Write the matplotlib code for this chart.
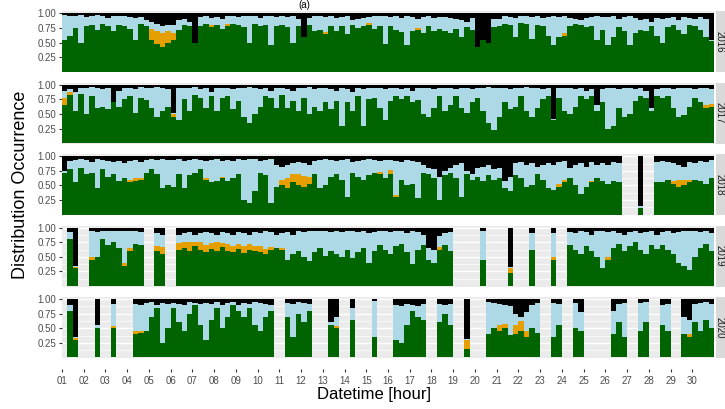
import matplotlib
matplotlib.use('Agg')
import matplotlib.pyplot as plt
import numpy as np
from matplotlib.patches import Rectangle

N = None  # no data for that 6-hour block

years = ['2016', '2017', '2018', '2019', '2020']
day_labels = ['%02d' % d for d in range(1, 31)]
hours_per_bin = 6

# values in percent, one value per 6 hours (120 per month)
green_2016 = [55, 62, 75, 50, 78, 80, 72, 82, 78, 70,
              80, 78, 74, 55, 82, 78, 55, 48, 42, 50,
              55, 72, 80, 78, 50, 78, 82, 76, 80, 74,
              78, 82, 80, 76, 50, 82, 78, 80, 45, 78,
              80, 76, 50, 78, 60, 80, 70, 72, 65, 78,
              70, 78, 65, 80, 75, 78, 80, 74, 78, 48,
              78, 72, 68, 45, 70, 72, 66, 78, 70, 74,
              70, 66, 74, 60, 76, 72, 42, 55, 50, 76,
              78, 82, 80, 60, 84, 82, 56, 80, 78, 62,
              45, 60, 62, 78, 82, 80, 76, 78, 55, 72,
              45, 60, 76, 70, 45, 66, 72, 70, 78, 62,
              50, 76, 80, 72, 64, 80, 78, 72, 60, 52]
black_2016 = [3, 4, 5, 3, 6, 4, 3, 5, 8, 4,
              4, 5, 6, 8, 6, 12, 15, 18, 22, 20,
              20, 12, 10, 15, 50, 6, 5, 8, 6, 10,
              5, 4, 6, 5, 4, 5, 8, 5, 4, 6,
              4, 6, 5, 10, 40, 8, 5, 4, 6, 5,
              8, 6, 5, 12, 10, 8, 6, 5, 4, 5,
              6, 5, 8, 5, 6, 10, 6, 5, 8, 7,
              6, 8, 10, 12, 15, 8, 58, 45, 50, 10,
              10, 5, 6, 8, 5, 4, 6, 5, 8, 6,
              4, 6, 5, 8, 10, 12, 8, 6, 5, 6,
              6, 5, 10, 6, 5, 8, 12, 10, 14, 8,
              10, 8, 6, 12, 6, 8, 10, 6, 10, 45]
orange_2016 = {16: 18, 17: 22, 18: 25, 19: 20, 20: 12, 27: 4, 30: 4,
               48: 3, 56: 4, 65: 3, 92: 5}

green_2017 = [65, 82, 55, 84, 50, 80, 60, 62, 58, 70,
              62, 76, 80, 52, 78, 74, 60, 45, 55, 62,
              45, 40, 75, 55, 82, 78, 60, 80, 55, 78,
              80, 58, 72, 45, 35, 50, 62, 80, 78, 60,
              82, 60, 72, 55, 78, 50, 62, 55, 70, 58,
              72, 30, 70, 55, 80, 30, 75, 78, 60, 40,
              72, 80, 76, 80, 70, 74, 50, 45, 60, 80,
              55, 65, 80, 60, 52, 70, 78, 55, 35, 22,
              45, 70, 58, 62, 80, 55, 45, 60, 75, 80,
              40, 78, 55, 50, 62, 80, 76, 80, 55, 70,
              25, 30, 60, 45, 50, 72, 80, 78, 55, 80,
              78, 80, 60, 45, 48, 62, 78, 70, 60, 62]
black_2017 = [10, 8, 12, 6, 5, 4, 6, 8, 6, 30,
              10, 6, 5, 8, 4, 5, 6, 4, 5, 8,
              48, 6, 5, 6, 4, 8, 5, 12, 6, 5,
              6, 8, 5, 6, 4, 5, 8, 6, 10, 5,
              6, 8, 10, 5, 6, 4, 8, 5, 6, 8,
              10, 6, 8, 12, 6, 8, 6, 5, 6, 8,
              6, 5, 8, 6, 10, 6, 5, 6, 8, 5,
              6, 5, 8, 5, 6, 8, 6, 5, 4, 5,
              5, 6, 8, 6, 5, 4, 6, 5, 8, 6,
              58, 6, 5, 6, 8, 6, 10, 8, 35, 8,
              5, 6, 8, 6, 5, 8, 6, 10, 40, 8,
              6, 5, 8, 6, 5, 6, 8, 5, 6, 8]
orange_2017 = {0: 12, 1: 5, 20: 5, 118: 6, 119: 5}

green_2018 = [72, 78, 55, 80, 70, 72, 45, 78, 65, 70,
              58, 62, 55, 58, 60, 72, 78, 70, 45, 50,
              48, 70, 45, 68, 72, 78, 60, 55, 58, 62,
              58, 62, 70, 25, 20, 40, 72, 68, 20, 48,
              50, 45, 55, 50, 48, 52, 70, 45, 50, 65,
              70, 60, 30, 72, 65, 60, 68, 72, 70, 62,
              70, 30, 60, 50, 52, 28, 72, 70, 62, 25,
              68, 72, 62, 30, 70, 60, 65, 58, 68, 60,
              62, 45, 40, 68, 62, 48, 50, 70, 60, 45,
              42, 48, 55, 62, 50, 35, 48, 55, 62, 58,
              52, 58, 55, 62, N, N, 12, 15, N, 55,
              55, 60, 52, 48, 50, 55, 60, 58, 52, 62]
black_2018 = [25, 8, 6, 5, 6, 10, 5, 6, 8, 10,
              8, 12, 8, 6, 10, 6, 5, 6, 5, 6,
              6, 5, 8, 6, 5, 6, 8, 6, 5, 8,
              6, 8, 5, 6, 5, 4, 8, 6, 5, 15,
              18, 15, 12, 10, 12, 15, 8, 6, 5, 6,
              8, 6, 5, 10, 8, 6, 5, 6, 8, 6,
              6, 8, 10, 6, 8, 10, 15, 20, 22, 35,
              25, 20, 15, 12, 25, 30, 20, 18, 15, 22,
              20, 42, 35, 12, 10, 15, 12, 18, 15, 12,
              15, 10, 8, 20, 15, 12, 18, 10, 15, 12,
              15, 10, 12, 8, N, N, 85, 50, N, 10,
              8, 10, 12, 15, 18, 10, 12, 8, 10, 6]
orange_2018 = {12: 4, 13: 5, 14: 3, 26: 3, 29: 3, 40: 10, 41: 18, 42: 15,
               43: 20, 44: 18, 45: 12, 58: 3, 60: 6, 61: 3, 91: 4, 92: 4,
               97: 3, 107: 30, 112: 5, 113: 12, 114: 10, 115: 5}

green_2019 = [N, 80, 30, 55, N, 45, 50, 80, 70, 75,
              65, 35, 60, 72, 70, 80, N, 60, 55, 65,
              N, 62, 65, 60, 68, 62, 58, 64, 60, 66,
              60, 58, 64, 56, 62, 60, 58, 55, 62, 65,
              62, 45, 55, 60, 50, 42, 58, 65, 52, 60,
              55, 50, 62, 48, 58, 65, 40, 60, 70, 62,
              55, 68, 72, 58, 38, 62, 70, 45, 40, 62,
              70, 60, 55, N, 72, N, N, 45, 48, N,
              N, N, 22, 30, N, N, 62, 68, N, N,
              45, 65, N, 70, 62, 55, 68, 60, 50, 30,
              45, 65, 72, 60, 68, 75, 62, 55, 70, 64,
              70, 62, 55, 40, 35, 28, 50, 65, 72, 60]
black_2019 = [N, 8, 65, 12, N, 5, 8, 6, 5, 6,
              5, 6, 5, 6, 8, 5, N, 10, 12, 8,
              N, 12, 10, 8, 12, 10, 8, 10, 12, 8,
              10, 12, 8, 10, 12, 8, 10, 6, 8, 12,
              10, 8, 12, 6, 8, 6, 5, 6, 5, 8,
              6, 8, 5, 6, 8, 6, 10, 8, 5, 6,
              8, 6, 5, 10, 6, 8, 12, 35, 38, 15,
              10, 8, 6, N, 6, N, N, 5, 6, N,
              N, N, 68, 60, N, N, 10, 8, N, N,
              10, 6, N, 8, 10, 6, 8, 12, 6, 5,
              8, 6, 10, 12, 8, 6, 10, 8, 6, 12,
              8, 6, 10, 8, 6, 5, 6, 8, 5, 10]
orange_2019 = {2: 3, 5: 4, 11: 4, 12: 5, 17: 8, 18: 12, 19: 6, 21: 12, 22: 10,
               23: 15, 24: 8, 25: 14, 26: 12, 27: 10, 28: 15, 29: 8, 30: 12,
               31: 10, 32: 8, 33: 12, 34: 10, 35: 8, 36: 10, 37: 8, 38: 4,
               40: 3, 69: 4, 74: 6, 82: 8, 83: 5, 90: 5, 100: 4}

green_2020 = [N, 80, 30, 50, N, N, 50, 48, N, 50,
              55, N, N, 40, 42, 45, 70, 85, 25, 50,
              85, 60, 45, 75, 90, 55, 30, 65, 85, 50,
              70, 90, 80, 70, 85, 55, 45, 70, 80, 55,
              N, 70, 35, 75, 60, 80, 65, N, N, 55,
              50, 60, N, 65, 72, N, N, 35, 40, N,
              N, 30, 25, 55, 80, 70, 65, 72, N, 60,
              75, 55, 65, N, 15, 75, N, N, 40, 50,
              45, 50, 38, 40, 45, 35, 50, 42, 55, N,
              35, 55, 45, N, 50, 45, 58, N, 45, N,
              N, 40, 60, 35, 55, N, 45, 60, 50, N,
              55, 45, 60, N, 40, 35, 60, 45, 65, 50]
black_2020 = [N, 10, 65, 20, N, N, 45, 15, N, 8,
              6, N, N, 8, 10, 6, 5, 10, 6, 8,
              6, 8, 10, 5, 6, 8, 6, 8, 5, 10,
              6, 5, 10, 6, 8, 5, 6, 8, 10, 8,
              N, 6, 8, 5, 6, 8, 10, N, N, 40,
              30, 42, N, 15, 12, N, N, 3, 4, N,
              N, 10, 12, 8, 10, 12, 8, 10, N, 8,
              10, 8, 6, N, 68, 10, N, N, 5, 6,
              8, 10, 12, 25, 30, 22, 10, 6, 8, N,
              6, 8, 10, N, 6, 22, 25, N, 5, N,
              N, 20, 8, 6, 5, N, 6, 5, 8, N,
              10, 8, 6, N, 30, 35, 8, 6, 5, 8]
orange_2020 = {2: 4, 9: 4, 13: 5, 14: 4, 50: 4, 74: 15, 80: 10, 81: 8, 83: 15,
               84: 18, 85: 10, 108: 5, 115: 5}

GREEN = '#006400'
ORANGE = '#E69F00'
LIGHTBLUE = '#ADD8E6'
BLACK = '#000000'


def build_layers(green, black, orange):
    """percent lists -> fractions, NaN where no data"""
    g = np.array([np.nan if v is None else v for v in green], dtype=float) / 100
    b = np.array([np.nan if v is None else v for v in black], dtype=float) / 100
    o = np.zeros(len(green))
    for k, v in orange.items():
        o[k] = v / 100
    o[np.isnan(g)] = np.nan
    return g, o, b


def draw_panel(ax, year, g, o, b):
    edges = 1 + np.arange(len(g) + 1) * hours_per_bin / 24

    def ext(a):
        return np.append(a, a[-1])

    zero = 0 * g
    layers = [(zero, g, GREEN), (g, g + o, ORANGE),
              (g + o, 1 - b, LIGHTBLUE), (1 - b, zero + 1, BLACK)]
    for lo, hi, c in layers:
        ax.fill_between(edges, ext(lo), ext(hi), step='post', color=c,
                        lw=0, antialiased=False)

    ax.set_facecolor('#EBEBEB')
    ax.set_xlim(1, 31)
    ax.set_ylim(-0.01, 1.035)
    ax.set_yticks([0.25, 0.5, 0.75, 1.0])
    ax.set_yticklabels(['0.25', '0.50', '0.75', '1.00'])
    ax.set_yticks([0.125, 0.375, 0.625, 0.875], minor=True)
    ax.grid(which='major', axis='y', color='white', lw=1.0)
    ax.grid(which='minor', axis='y', color='white', lw=0.5)
    ax.set_axisbelow(True)
    for s in ax.spines.values():
        s.set_visible(False)
    ax.tick_params(axis='y', which='major', length=2.5, width=0.8,
                   color='#333333', labelcolor='#4D4D4D', labelsize=7, pad=1.5)
    ax.tick_params(axis='y', which='minor', length=0)
    ax.set_xticks(range(1, 31))

    # facet strip on the right
    ax.add_patch(Rectangle((1 + 1.5 / 652, 0), 0.08, 1, transform=ax.transAxes,
                           facecolor='#D9D9D9', edgecolor='none', clip_on=False))
    ax.text(1 + 5.5 / 652, 0.5, year, transform=ax.transAxes, rotation=270,
            ha='center', va='center', fontsize=7, color='#1A1A1A')


def main():
    plt.rcParams['font.family'] = ['Liberation Sans', 'DejaVu Sans']
    fig, axes = plt.subplots(5, 1, figsize=(7.25, 4.09), dpi=100)
    fig.subplots_adjust(left=62 / 725, right=714 / 725, top=1 - 11.3 / 409,
                        bottom=1 - 358 / 409, hspace=0.172)

    data = [(green_2016, black_2016, orange_2016),
            (green_2017, black_2017, orange_2017),
            (green_2018, black_2018, orange_2018),
            (green_2019, black_2019, orange_2019),
            (green_2020, black_2020, orange_2020)]

    for ax, year, (gr, bl, org) in zip(axes, years, data):
        g, o, b = build_layers(gr, bl, org)
        draw_panel(ax, year, g, o, b)
        ax.tick_params(axis='x', length=0, labelbottom=False)

    bottom = axes[-1]
    bottom.spines['bottom'].set_position(('outward', 8))
    bottom.tick_params(axis='x', length=2.5, width=0.8, color='#333333',
                       labelcolor='#4D4D4D', labelsize=7, pad=2.5,
                       labelbottom=True)
    bottom.set_xticklabels(day_labels)

    fig.text(0.028, 1 - 184.6 / 409, 'Distribution Occurrence', rotation=90,
             ha='center', va='center', fontsize=13)
    fig.text(374 / 725, 1 - 395 / 409, 'Datetime [hour]', ha='center',
             va='center', fontsize=12)
    fig.text(304 / 725, 1 - 0.5 / 409, '(a)', ha='center', va='top', fontsize=7)

    fig.savefig('out.png', dpi=100, facecolor='white')


if __name__ == '__main__':
    main()
